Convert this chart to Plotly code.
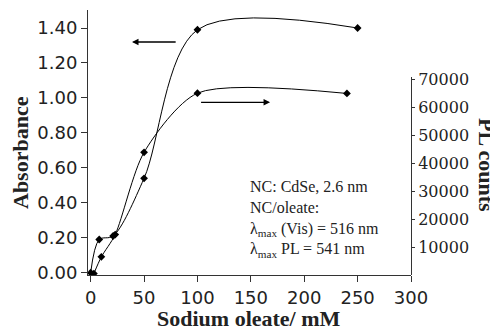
import plotly.graph_objects as go

# Data
abs_x = [0, 8, 21, 50, 100, 250]
abs_y = [0.00, 0.19, 0.21, 0.54, 1.39, 1.40]
pl_x = [3, 10, 23, 50, 100, 240]
pl_y = [500, 6500, 14500, 44000, 65200, 65100]

x_ticks = [0, 50, 100, 150, 200, 250, 300]
abs_ticks = [0.0, 0.2, 0.4, 0.6, 0.8, 1.0, 1.2, 1.4]
pl_ticks = [10000, 20000, 30000, 40000, 50000, 60000, 70000]

OFF = 8  # page body margin offset
W, H = 498 - OFF, 332 - OFF
L, R, T, B = 88 - OFF, 411 - OFF, 10 - OFF, 275 - OFF

fig = go.Figure()
fig.add_trace(go.Scatter(x=abs_x, y=abs_y, mode="lines+markers",
                         line=dict(color="black", width=1, shape="spline", smoothing=0.9),
                         marker=dict(symbol="diamond", size=6, color="black"),
                         yaxis="y", showlegend=False))
fig.add_trace(go.Scatter(x=pl_x, y=pl_y, mode="lines+markers",
                         line=dict(color="black", width=1, shape="spline", smoothing=0.75),
                         marker=dict(symbol="diamond", size=6, color="black"),
                         yaxis="y2", showlegend=False))

def px_x(p):
    return (p - OFF - L) / (R - L)

def px_y(p):
    return (B - (p - OFF)) / (B - T)

fig.update_layout(
    width=W, height=H,
    margin=dict(l=L, r=W - R, t=T, b=H - B, autoexpand=False),
    paper_bgcolor="white", plot_bgcolor="rgba(0,0,0,0)",
    xaxis=dict(range=[-2.5, 300], tickvals=x_ticks, ticktext=[str(v) for v in x_ticks],
               showline=True, linecolor="#333", linewidth=1, ticks="outside", ticklen=6,
               tickcolor="#333", showgrid=False, zeroline=False,
               tickfont=dict(family="DejaVu Sans", size=18, color="#222")),
    yaxis=dict(range=[-0.013, 1.503], tickvals=abs_ticks,
               ticktext=["%.2f" % v for v in abs_ticks],
               showline=True, linecolor="#333", linewidth=1, ticks="outside", ticklen=6,
               tickcolor="#333", showgrid=False, zeroline=False,
               tickfont=dict(family="DejaVu Sans", size=18, color="#222")),
    yaxis2=dict(domain=[0, (B - (77 - OFF)) / (B - T)], range=[0, 71000], anchor="x", side="right",
                tickvals=pl_ticks, ticktext=[str(v) for v in pl_ticks],
                showline=True, linecolor="#333", linewidth=1, ticks="outside", ticklen=3,
                tickcolor="#333", showgrid=False, zeroline=False,
                tickfont=dict(family="DejaVu Serif", size=16, color="#222")),
)

ann = []
ann.append(dict(text="<b>Absorbance</b>", xref="paper", yref="paper",
                x=px_x(20), y=px_y(153), textangle=-90, showarrow=False,
                xanchor="center", yanchor="middle",
                font=dict(family="Liberation Serif", size=22, color="#222")))
ann.append(dict(text="<b>PL counts</b>", xref="paper", yref="paper",
                x=px_x(487), y=px_y(165), textangle=90, showarrow=False,
                xanchor="center", yanchor="middle",
                font=dict(family="Liberation Serif", size=22, color="#222")))
ann.append(dict(text="<b>Sodium oleate/ mM</b>", xref="paper", yref="paper",
                x=px_x(249), y=px_y(318), showarrow=False,
                xanchor="center", yanchor="middle",
                font=dict(family="Liberation Serif", size=22, color="#222")))
ann.append(dict(text="NC: CdSe, 2.6 nm<br>NC/oleate:<br>λ<sub>max</sub> (Vis) = 516 nm<br>λ<sub>max</sub> PL = 541 nm",
                xref="paper", yref="paper", x=px_x(248), y=px_y(219), xanchor="left",
                yanchor="middle", align="left", showarrow=False,
                font=dict(family="Liberation Serif", size=16, color="#222")))
# arrows
ann.append(dict(x=38.7, y=1.32, ax=81, ay=1.32, xref="x", yref="y", axref="x", ayref="y",
                text="", showarrow=True, arrowhead=2, arrowsize=1, arrowwidth=1.3, arrowcolor="black"))
ann.append(dict(x=168, y=0.975, ax=102, ay=0.975, xref="x", yref="y", axref="x", ayref="y",
                text="", showarrow=True, arrowhead=2, arrowsize=1, arrowwidth=1.3, arrowcolor="black"))
fig.update_layout(annotations=ann)

fig.write_html("out.html")
